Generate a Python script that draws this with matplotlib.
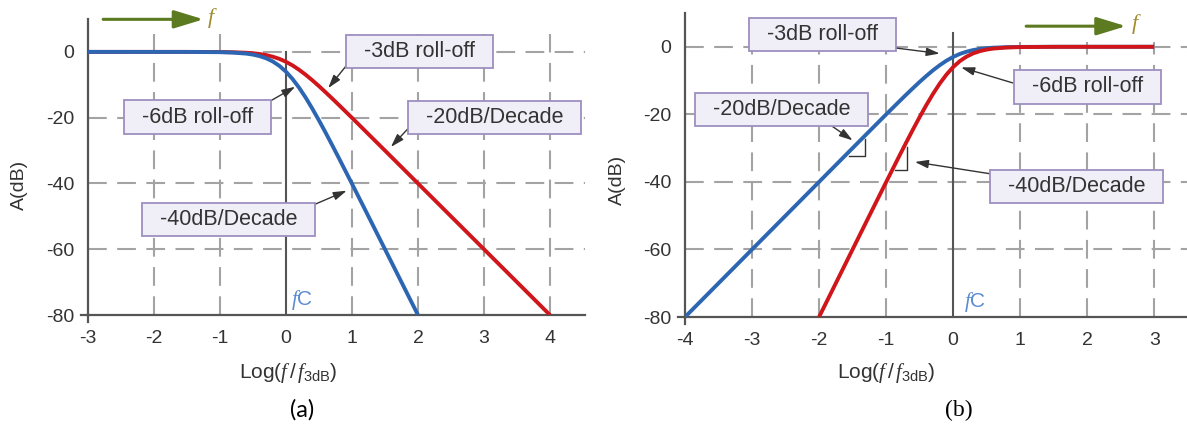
import numpy as np
import matplotlib
matplotlib.use("Agg")
import matplotlib.pyplot as plt
from matplotlib.patches import FancyArrowPatch

plt.rcParams['font.family'] = ['Liberation Sans', 'DejaVu Sans']
plt.rcParams['mathtext.fontset'] = 'custom'
plt.rcParams['mathtext.rm'] = 'Liberation Sans'
plt.rcParams['mathtext.it'] = 'Liberation Serif:italic'
plt.rcParams['axes.unicode_minus'] = False

# (a) low-pass responses
x_lp = [-3, -1.5, -1.0, -0.8, -0.6, -0.5, -0.4, -0.3, -0.2, -0.1, 0, 0.1, 0.2,
        0.3, 0.4, 0.5, 0.6, 0.7, 0.8, 1.0, 1.2, 1.5, 2, 3, 4]
lp_first = [0, 0, -0.04, -0.11, -0.27, -0.41, -0.64, -0.97, -1.46, -2.12, -3.01,
            -4.12, -5.46, -6.97, -8.64, -10.41, -12.27, -14.17, -16.11, -20.04,
            -24.02, -30.0, -40.0, -60.0, -80.0]
x_lp2 = [-3, -1.5, -1.0, -0.8, -0.6, -0.5, -0.4, -0.3, -0.2, -0.1, 0, 0.1, 0.2,
         0.3, 0.4, 0.5, 0.6, 0.7, 0.8, 1.0, 1.2, 1.5, 2]
lp_second = [0, -0.01, -0.09, -0.22, -0.53, -0.83, -1.28, -1.95, -2.91, -4.25,
             -6.02, -8.25, -10.91, -13.95, -17.28, -20.83, -24.53, -28.34, -32.22,
             -40.09, -48.03, -60.0, -80.0]

# (b) high-pass responses
x_hp = [-4, -3, -2, -1.5, -1.2, -1.0, -0.8, -0.7, -0.6, -0.5, -0.4, -0.3, -0.2,
        -0.1, 0, 0.1, 0.2, 0.3, 0.4, 0.5, 0.6, 0.8, 1.0, 1.5, 3]
hp_first = [-80, -60, -40, -30.0, -24.02, -20.04, -16.11, -14.17, -12.27, -10.41,
            -8.64, -6.97, -5.46, -4.12, -3.01, -2.12, -1.46, -0.97, -0.64, -0.41,
            -0.27, -0.11, -0.04, 0, 0]
x_hp2 = [-2, -1.5, -1.2, -1.0, -0.8, -0.7, -0.6, -0.5, -0.4, -0.3, -0.2, -0.1, 0,
         0.1, 0.2, 0.3, 0.4, 0.5, 0.6, 0.8, 1.0, 1.5, 3]
hp_second = [-80, -60, -48.03, -40.09, -32.22, -28.34, -24.53, -20.83, -17.28,
             -13.95, -10.91, -8.25, -6.02, -4.25, -2.91, -1.95, -1.28, -0.83,
             -0.53, -0.22, -0.09, -0.01, 0]

y_ticks = [0, -20, -40, -60, -80]
xt_a = [-3, -2, -1, 0, 1, 2, 3, 4]
xt_b = [-4, -3, -2, -1, 0, 1, 2, 3]

BLUE = '#2c66b2'
RED = '#d0161b'
GRID = '#a3a3a3'
AXC = '#555555'
BOXFC = '#f0eef6'
BOXEC = '#9d8fc0'
GREEN = '#5c7a20'
FCOL = '#a08c2c'
FCBLUE = '#5a8ad0'
TXT = '#333333'

fig = plt.figure(figsize=(11.87, 4.25), dpi=100)
ax1 = fig.add_axes([0.0741, 0.2588, 0.4187, 0.6965])
ax2 = fig.add_axes([0.5771, 0.2541, 0.4229, 0.7153])


def setup(ax, xlim, xticks, vtop, fc_top):
    ax.set_xlim(*xlim)
    ax.set_ylim(-80, 10)
    for s in ['top', 'right']:
        ax.spines[s].set_visible(False)
    for s in ['left', 'bottom']:
        ax.spines[s].set_color(AXC)
        ax.spines[s].set_linewidth(1.6)
    ax.set_xticks(xticks)
    ax.set_yticks(y_ticks)
    ax.tick_params(length=0, labelsize=14, colors=TXT)
    ax.tick_params(axis='x', pad=11)
    ax.tick_params(axis='y', pad=10)
    dash = (0, (9, 5))
    for xv in xticks:
        if xv in (0, xticks[0]):
            continue
        ax.plot([xv, xv], [-80, vtop], color=GRID, lw=1.5, ls=dash, zorder=1)
    for yv in y_ticks[:-1]:
        ax.plot(xlim, [yv, yv], color=GRID, lw=1.5, ls=dash, zorder=1)
    ax.plot([0, 0], [-80, fc_top], color=AXC, lw=1.5, zorder=2)
    # small overshoot of the axes at the origin corner
    ax.plot([xlim[0] - 0.1, xlim[0]], [-80, -80], color=AXC, lw=1.6, clip_on=False)
    ax.plot([xlim[0], xlim[0]], [-82, -80], color=AXC, lw=1.6, clip_on=False)


def label_box(ax, txt, xy, start, tip):
    ax.text(xy[0], xy[1], '  ' + txt + '  ', fontsize=15.5, color=TXT,
            ha='center', va='center', zorder=6,
            bbox=dict(boxstyle='square,pad=0.28', fc=BOXFC, ec=BOXEC, lw=1.3))
    ax.annotate('', xy=tip, xytext=start, zorder=5,
                arrowprops=dict(arrowstyle='-|>,head_length=0.8,head_width=0.25',
                                color=TXT, lw=1.0, shrinkA=0, shrinkB=0))


def freq_arrow(ax, x0, x1, y, fx):
    arr = FancyArrowPatch((x0, y), (x1, y), arrowstyle='-|>,head_length=1.8,head_width=0.55',
                          mutation_scale=10, color=GREEN, lw=2.2, clip_on=False,
                          shrinkA=0, shrinkB=0)
    ax.add_patch(arr)
    ax.text(fx, y + 0.5, r'$f$', fontsize=16, color=FCOL, ha='center', va='center',
            clip_on=False)


# ---- (a) ----
setup(ax1, (-3, 4.53), xt_a, 5.4, 0)
ax1.plot(x_lp, lp_first, color=RED, lw=2.8, zorder=3, solid_capstyle='butt')
ax1.plot(x_lp2, lp_second, color=BLUE, lw=2.8, zorder=4, solid_capstyle='butt')
label_box(ax1, '-3dB roll-off', (2.02, 0.2), (0.95, -3.3), (0.64, -11))
label_box(ax1, '-6dB roll-off', (-1.34, -19.8), (-0.26, -15.2), (0.14, -10.6))
label_box(ax1, '-20dB/Decade', (3.16, -20.0), (1.86, -23.1), (1.59, -28.9))
label_box(ax1, '-40dB/Decade', (-0.87, -51.0), (0.42, -46.5), (0.92, -42.2))
freq_arrow(ax1, -2.77, -1.25, 9.9, -1.12)
ax1.text(0.08, -79, r'$f$C', fontsize=15, color=FCBLUE, ha='left', va='bottom')

# ---- (b) ----
setup(ax2, (-4, 3.49), xt_b, 1.5, 4)
ax2.plot(x_hp, hp_first, color=BLUE, lw=2.8, zorder=3, solid_capstyle='butt')
ax2.plot(x_hp2, hp_second, color=RED, lw=2.8, zorder=4, solid_capstyle='butt')
label_box(ax2, '-3dB roll-off', (-1.95, 3.5), (-0.92, -0.2), (-0.2, -2.0))
label_box(ax2, '-20dB/Decade', (-2.56, -18.5), (-1.85, -22.9), (-1.5, -27.7))
label_box(ax2, '-6dB roll-off', (2.0, -11.9), (0.89, -10.7), (0.12, -6.1))
label_box(ax2, '-40dB/Decade', (1.84, -41.4), (0.62, -37.8), (-0.57, -34.1))
# slope corner marks
ax2.plot([-1.55, -1.31, -1.31], [-32.2, -32.2, -27.2], color=TXT, lw=1.0, zorder=5)
ax2.plot([-0.87, -0.69, -0.69], [-36.4, -36.4, -29.7], color=TXT, lw=1.0, zorder=5)
freq_arrow(ax2, 1.09, 2.58, 6.1, 2.73)
ax2.text(0.17, -79, r'$f$C', fontsize=15, color=FCBLUE, ha='left', va='bottom')

# axis titles
xl = r'Log($f\,$/$\,f_{\mathrm{3dB}}$)'
fig.text(0.2426, 0.122, xl, fontsize=15, color=TXT, ha='center', va='center')
fig.text(0.7464, 0.122, xl, fontsize=15, color=TXT, ha='center', va='center')
fig.text(0.0168, 0.565, 'A(dB)', fontsize=14, color=TXT, rotation=90,
         ha='center', va='center')
fig.text(0.5206, 0.576, 'A(dB)', fontsize=14, color=TXT, rotation=90,
         ha='center', va='center')
fig.text(0.2545, 0.035, '(a)', fontsize=17, ha='center', va='center',
         family='Lato')
fig.text(0.808, 0.035, '(b)', fontsize=17, ha='center', va='center',
         family='Liberation Serif')

fig.savefig('out.png', dpi=100)
